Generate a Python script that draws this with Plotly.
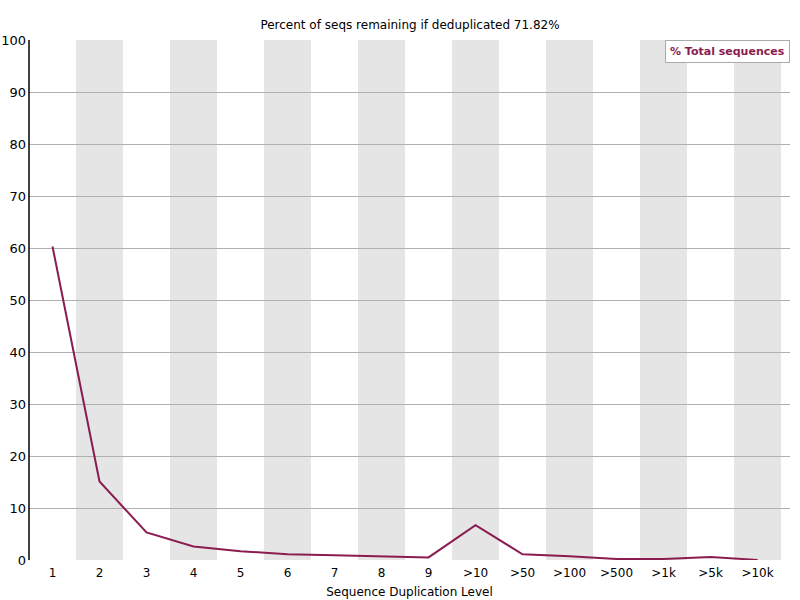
import plotly.graph_objects as go

categories = ["1", "2", "3", "4", "5", "6", "7", "8", "9", ">10", ">50", ">100", ">500", ">1k", ">5k", ">10k"]
total_pct = [60.3, 15.1, 5.3, 2.6, 1.7, 1.1, 0.9, 0.7, 0.5, 6.7, 1.1, 0.7, 0.2, 0.2, 0.6, 0.0]
y_ticks = [0, 10, 20, 30, 40, 50, 60, 70, 80, 90, 100]

LINE = "#8b1c50"
FONT = "DejaVu Sans"
xs = list(range(len(categories)))

fig = go.Figure()
fig.add_trace(go.Scatter(x=xs, y=total_pct, mode="lines",
                         line=dict(color=LINE, width=2), showlegend=False,
                         name="% Total sequences"))

shapes = []
for i in xs:
    if i % 2 == 1:
        shapes.append(dict(type="rect", xref="x", yref="y", x0=i - 0.5, x1=i + 0.5,
                           y0=0, y1=100, fillcolor="#e5e5e5", line=dict(width=0),
                           layer="below"))
# left black axis line
shapes.append(dict(type="line", xref="paper", yref="paper", x0=0, x1=0, y0=0, y1=1,
                   line=dict(color="black", width=1.5)))

fig.update_layout(
    width=800, height=600,
    margin=dict(l=29, r=10, t=40, b=40),
    paper_bgcolor="white", plot_bgcolor="white",
    font=dict(family=FONT, size=12, color="black"),
    title=dict(text="Percent of seqs remaining if deduplicated 71.82%",
               x=0.5125, xanchor="center", y=0.958, yanchor="middle",
               font=dict(family=FONT, size=12, color="black")),
    shapes=shapes,
    xaxis=dict(range=[-0.5, 15.69], tickmode="array", tickvals=xs, ticktext=categories,
               showgrid=False, zeroline=False, showline=False, ticks="",
               automargin=False, ticklabelstandoff=4,
               title=dict(text="Sequence Duplication Level", standoff=8,
                          font=dict(family=FONT, size=12))),
    yaxis=dict(range=[0, 100], tickmode="array", tickvals=y_ticks,
               showgrid=True, gridcolor="#b0b0b0", gridwidth=1, zeroline=False,
               showline=False, ticks="", ticklabelstandoff=2, automargin=False,
               tickfont=dict(size=13)),
    annotations=[dict(text="<b>% Total sequences</b>", xref="paper", yref="paper",
                      x=1, y=1, xanchor="right", yanchor="top", showarrow=False,
                      font=dict(family=FONT, size=11, color=LINE),
                      bordercolor="#aaaaaa", borderwidth=1, borderpad=4,
                      bgcolor="white")],
)

fig.write_html("out.html")
